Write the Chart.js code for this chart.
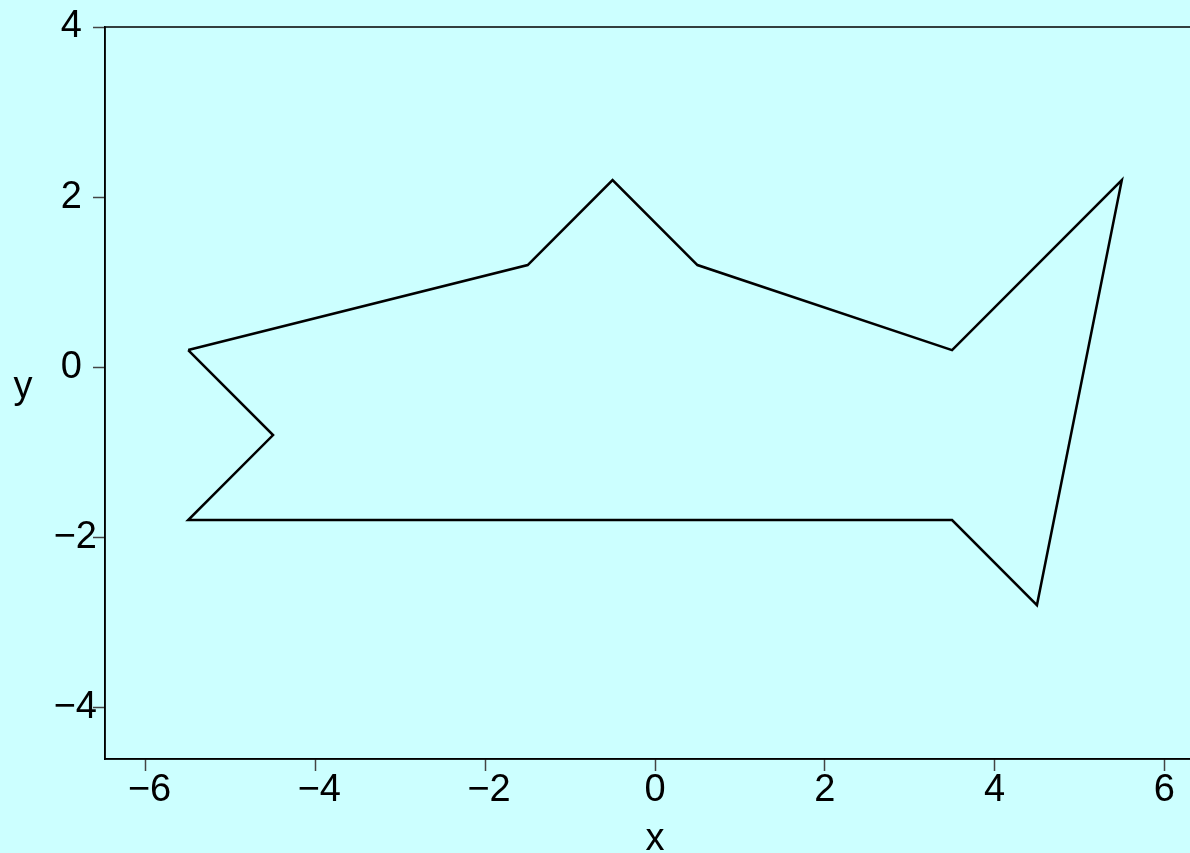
<!DOCTYPE html>
<html>
<head>
<meta charset="utf-8">
<script src="https://cdn.jsdelivr.net/npm/chart.js@4.4.1/dist/chart.umd.min.js"></script>
<style>
  html, body { margin: 0; padding: 0; background: #CCFFFF; overflow: hidden; width: 1190px; height: 853px; }
  #wrap { width: 1210px; height: 853px; }
</style>
</head>
<body>
<div id="wrap"><canvas id="c" width="1210" height="853"></canvas></div>
<script>
// Outline vertices, traced in order and closed back to the start
const outlineX = [-5.5, -1.5, -0.5, 0.5, 3.5, 5.5, 4.5, 3.5, -5.5, -4.5, -5.5];
const outlineY = [0.2, 1.2, 2.2, 1.2, 0.2, 2.2, -2.8, -1.8, -1.8, -0.8, 0.2];

// Axis ticks and ranges
const xTicks = [-6, -4, -2, 0, 2, 4, 6];
const yTicks = [-4, -2, 0, 2, 4];
const xRange = [-6.48, 6.48];
const yRange = [-4.61, 4.0];

const xLabel = 'x';
const yLabel = 'y';

const BG = '#CCFFFF';
const FONT = 'Liberation Sans, Arial, Helvetica, sans-serif';
const FS = 38;

const points = outlineX.map((x, i) => ({ x: x, y: outlineY[i] }));
const minus = v => String(v).replace('-', '\u2212');

// Labels for negative values sit slightly further right than positive ones
const xTickText = v => (v < 0 ? '\u2009' : '') + minus(v);
const yTickText = v => minus(v) + (v < 0 ? '' : '\u2009\u2009');

const background = {
  id: 'background',
  beforeDraw(chart) {
    const ctx = chart.ctx;
    ctx.save();
    ctx.fillStyle = BG;
    ctx.fillRect(0, 0, chart.width, chart.height);
    ctx.restore();
  }
};

// Frame around the plotting region plus the upright y-axis label
const frame = {
  id: 'frame',
  afterDraw(chart) {
    const { ctx, chartArea: a } = chart;
    ctx.save();
    ctx.strokeStyle = '#000';
    ctx.lineWidth = 1.5;
    ctx.strokeRect(a.left, a.top, a.right - a.left, a.bottom - a.top);
    ctx.fillStyle = '#000';
    ctx.font = FS + 'px ' + FONT;
    ctx.textAlign = 'center';
    ctx.textBaseline = 'alphabetic';
    ctx.fillText(yLabel, 23, 398);
    ctx.restore();
  }
};

new Chart(document.getElementById('c'), {
  type: 'scatter',
  data: {
    datasets: [{
      data: points,
      showLine: true,
      fill: false,
      tension: 0,
      borderColor: '#000',
      borderWidth: 2.5,
      pointRadius: 0,
      pointHoverRadius: 0
    }]
  },
  options: {
    responsive: false,
    animation: false,
    events: [],
    layout: { padding: { left: 0, right: 5, top: 27, bottom: 0 } },
    plugins: { legend: { display: false }, tooltip: { enabled: false } },
    scales: {
      x: {
        type: 'linear',
        min: xRange[0], max: xRange[1],
        afterBuildTicks: s => { s.ticks = xTicks.map(v => ({ value: v })); },
        afterFit: s => { s.height = 94; s.paddingLeft = 0; s.paddingRight = 0; },
        border: { display: true, color: '#000', width: 1.5 },
        grid: { drawOnChartArea: false, drawTicks: true, tickLength: 12, tickColor: '#444', tickWidth: 1.5 },
        ticks: {
          color: '#000', padding: -3, maxRotation: 0, autoSkip: false,
          font: { family: FONT, size: FS },
          callback: v => xTickText(v)
        },
        title: {
          display: true, text: xLabel, color: '#000',
          font: { family: FONT, size: FS, lineHeight: 0.7 },
          padding: { top: 0, bottom: 0 }
        }
      },
      y: {
        type: 'linear',
        min: yRange[0], max: yRange[1],
        afterBuildTicks: s => { s.ticks = yTicks.map(v => ({ value: v })); },
        afterFit: s => { s.width = 105; s.paddingTop = 0; s.paddingBottom = 0; },
        border: { display: true, color: '#000', width: 1.5 },
        grid: { drawOnChartArea: false, drawTicks: true, tickLength: 12, tickColor: '#444', tickWidth: 1.5 },
        ticks: {
          color: '#000', padding: -4, autoSkip: false,
          font: { family: FONT, size: FS },
          callback: v => yTickText(v)
        }
      }
    }
  },
  plugins: [background, frame]
});
</script>
</body>
</html>
